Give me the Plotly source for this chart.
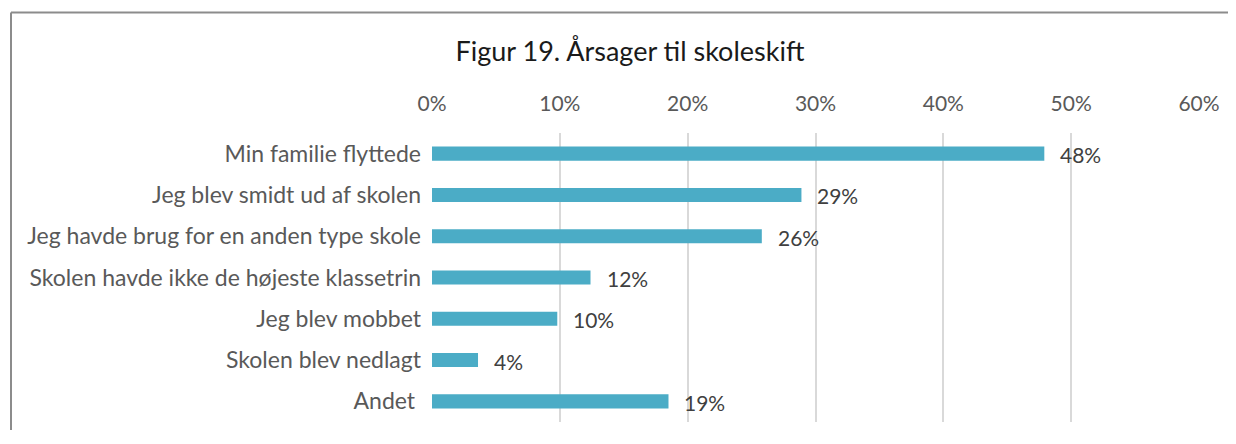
import plotly.graph_objects as go

categories = [
    "Min familie flyttede",
    "Jeg blev smidt ud af skolen",
    "Jeg havde brug for en anden type skole",
    "Skolen havde ikke de højeste klassetrin",
    "Jeg blev mobbet",
    "Skolen blev nedlagt",
    "Andet\u00a0",
]
values = [47.9, 28.9, 25.8, 12.4, 9.8, 3.6, 18.5]
value_labels = ["48%", "29%", "26%", "12%", "10%", "4%", "19%"]
tick_vals = [0, 10, 20, 30, 40, 50, 60]
tick_text = ["0%", "10%", "20%", "30%", "40%", "50%", "60%"]

FONT = "Lato, 'Open Sans', sans-serif"

# page body has an 8px margin; figure coordinates are screen - 8
OFF = 8
W, H = 1236 - 2 * OFF, 444 - 2 * OFF - 6
L, T = 432 - OFF, 133 - OFF
R = W - (1199 - OFF)
B = H - (422 - OFF)
pw = W - L - R
ph = H - T - B

fig = go.Figure()
fig.add_trace(go.Bar(
    y=categories,
    x=values,
    orientation="h",
    marker=dict(color="#4BACC6", line=dict(width=0)),
    width=0.34,
    hoverinfo="skip",
))

for c, v, t in zip(categories, values, value_labels):
    fig.add_annotation(
        x=v, y=c, text=t, showarrow=False,
        xanchor="left", yanchor="middle", xshift=14, yshift=-1,
        font=dict(family=FONT, size=21, color="#404040"),
    )

frame_x = 11 - OFF
frame_y = 12.5 - OFF
fig.add_shape(type="line", xref="paper", yref="paper",
              x0=(frame_x - L) / pw, x1=(W - L) / pw,
              y0=(H - B - frame_y) / ph, y1=(H - B - frame_y) / ph,
              line=dict(color="#8c8c8c", width=2))
fig.add_shape(type="line", xref="paper", yref="paper",
              x0=(frame_x - L) / pw, x1=(frame_x - L) / pw,
              y0=(H - B - frame_y) / ph, y1=-B / ph,
              line=dict(color="#8c8c8c", width=2))

fig.update_layout(
    width=W, height=H,
    margin=dict(l=L, r=R, t=T, b=B, autoexpand=False),
    paper_bgcolor="white", plot_bgcolor="white",
    showlegend=False,
    title=dict(text="Figur 19. Årsager til skoleskift", x=(630 - OFF) / W, xanchor="center",
               y=1 - (52 - OFF) / H, yanchor="middle",
               font=dict(family=FONT, size=27, color="#1a1a1a")),
    xaxis=dict(
        side="top", range=[0, 60], tickvals=tick_vals, ticktext=tick_text,
        showgrid=True, gridcolor="#d9d9d9", gridwidth=1.5,
        zeroline=False, showline=False, ticks="",
        ticklabelstandoff=17,
        tickfont=dict(family=FONT, size=21, color="#595959"),
        fixedrange=True,
    ),
    yaxis=dict(
        autorange="reversed", showgrid=False, zeroline=False, showline=False,
        ticks="", ticklabelstandoff=10,
        tickfont=dict(family=FONT, size=23, color="#595959"),
        fixedrange=True,
    ),
    bargap=0.66,
)

fig.write_html("out.html")
